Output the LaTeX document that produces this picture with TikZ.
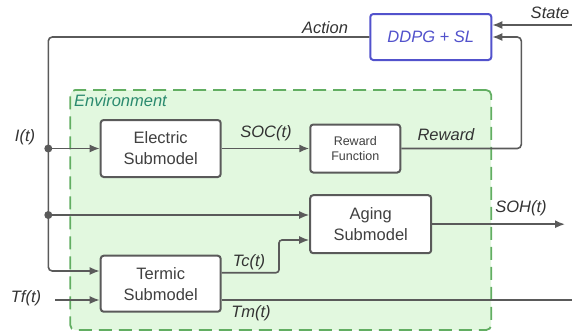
\documentclass[tikz,border=0pt]{standalone}
\usepackage{fontspec}
\setmainfont{Liberation Sans}
\usetikzlibrary{arrows.meta}

\definecolor{wiregray}{HTML}{5A5A5A}
\definecolor{envfill}{HTML}{E2F8DF}
\definecolor{envdraw}{HTML}{62AE62}
\definecolor{envtext}{HTML}{2A8A6E}
\definecolor{agentblue}{HTML}{5252CC}

\tikzset{
  block/.style={draw=wiregray, line width=2pt, fill=white, rounded corners=3pt,
    align=center, inner sep=0pt, text=black!75, font=\fontsize{16.5}{21}\selectfont},
  wire/.style={draw=wiregray, line width=1.6pt},
  sig/.style={wire, -{Latex[length=10pt,width=8pt]}},
  lbl/.style={font=\fontsize{16.5}{20}\selectfont\itshape, text=black!80, inner sep=0pt}
}

\begin{document}
\begin{tikzpicture}[x=1pt,y=-1pt]
\useasboundingbox (0,0) rectangle (572,333);
%environment
\node[draw=envdraw, fill=envfill, line width=1.8pt, dash pattern=on 13pt off 7pt,
  rounded corners=5pt, minimum width=421pt, minimum height=240pt] (env) at (280.7,210) {};
\node[anchor=west, inner sep=0pt, text=envtext, font=\fontsize{16.5}{20}\selectfont\itshape] (envlbl) at (74,101) {Environment};
%blocks
\node[block, draw=agentblue, text=agentblue, font=\fontsize{16.5}{20}\selectfont\itshape,
  minimum width=121pt, minimum height=46pt] (ddpg) at (430.8,37) {DDPG + SL};
\node[block, minimum width=120pt, minimum height=57pt] (elec) at (160.7,148.5) {Electric\\Submodel};
\node[block, font=\fontsize{12.5}{15}\selectfont, minimum width=90pt, minimum height=48pt] (rew) at (355.3,148.5) {Reward\\Function};
\node[block, minimum width=121pt, minimum height=58pt] (aging) at (370.7,224.2) {Aging\\Submodel};
\node[block, minimum width=120pt, minimum height=56pt] (termic) at (160.7,283.7) {Termic\\Submodel};
%points
\coordinate (cAct) at (48.3,37);
\coordinate (dotI) at (48.3,148.5);
\coordinate (dotH) at (48.3,215);
\coordinate (cRew) at (521.3,148.5);
\coordinate (sIn) at (572,25);
\coordinate (tcBend) at (279,240);
\coordinate (sohOut) at (565,224.2);
\coordinate (tfIn) at (55,300);
\coordinate (tmOut) at (572,300);
%connectors
\draw[sig, rounded corners=4pt] (ddpg.west) -- (cAct) |- ([yshift=12.7pt]termic.west);
\draw[sig] (dotI) -- (elec.west);
\draw[sig] (dotH) -- (aging.west |- dotH);
\draw[sig] (elec.east) -- (rew.west);
\draw[sig, rounded corners=4pt] (rew.east) -- (cRew) |- (ddpg.east);
\draw[sig] (sIn) -- ([yshift=12pt]ddpg.east);
\draw[sig, rounded corners=3pt] ([yshift=11pt]termic.east) -| (tcBend) -- (aging.west |- tcBend);
\draw[sig] (aging.east) -- (sohOut);
\draw[sig] (tfIn) -- ([yshift=-16.3pt]termic.west);
\draw[wire] ([yshift=-16.3pt]termic.east) -- (tmOut);
\fill[wiregray] (dotI) circle (4pt);
\fill[wiregray] (dotH) circle (4pt);
%labels
\node[lbl] (lAction) at (325,28) {Action};
\node[lbl] (lState) at (550,13) {State};
\node[lbl] (lI) at (25,137) {I(t)};
\node[lbl] (lSOC) at (266,133) {SOC(t)};
\node[lbl] (lReward) at (446,135) {Reward};
\node[lbl] (lSOH) at (521,208) {SOH(t)};
\node[lbl] (lTc) at (249,262) {Tc(t)};
\node[lbl] (lTf) at (26,298) {Tf(t)};
\node[lbl] (lTm) at (251,313) {Tm(t)};
\end{tikzpicture}
\end{document}
